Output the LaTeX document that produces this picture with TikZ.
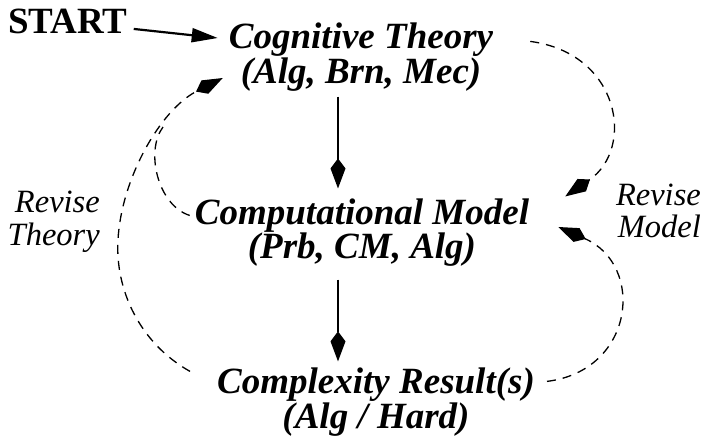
\documentclass[tikz,border=0pt]{standalone}
\usepackage{fontspec}
\setmainfont{Liberation Serif}
\usetikzlibrary{arrows.meta}
\tikzset{
  concept/.style={inner sep=0pt, align=center, font=\fontsize{37}{32}\selectfont\bfseries\itshape},
  revlabel/.style={inner sep=0pt, align=right, font=\fontsize{32.5}{32.5}\selectfont\itshape},
  kitearrow/.style={line width=1.3pt, -{Kite[length=30pt,width=15pt,inset=10pt]}},
  revise/.style={kitearrow, dash pattern=on 9pt off 7pt},
  startarrow/.style={line width=2.2pt, -{Triangle[length=26pt,width=14pt]}}
}
\begin{document}
\begin{tikzpicture}[x=1pt,y=-1pt]
\useasboundingbox (0,0) rectangle (709,442);
\node[inner sep=0pt, anchor=base west, font=\fontsize{37}{37}\selectfont\bfseries] (st) at (8,33) {START};
\node[concept] (ct) at (361,57.4) {Cognitive Theory\\(Alg, Brn, Mec)};
\node[concept] (cm) at (362,232.4) {Computational Model\\(Prb, CM, Alg)};
\node[concept] (cr) at (376,402.4) {Complexity Result(s)\\(Alg / Hard)};
\node[revlabel, anchor=east] (rt) at (100,221.8) {Revise\\Theory};
\node[revlabel, anchor=east] (rm) at (701,210.9) {Revise\\Model};
\coordinate (vx) at (338,0);
\coordinate (lt) at (118,240);
\coordinate (jn) at (163,127);
% start arrow
\draw[startarrow] ([shift={(6,8)}]st.east) -- ([shift={(-11,-19.4)}]ct.west);
% main vertical arrows
\draw[kitearrow, shorten <=5pt, shorten >=9.7pt] (ct.south -| vx) -- (cm.north -| vx);
\draw[kitearrow, shorten <=13pt, shorten >=6.7pt] (cm.south -| vx) -- (cr.north -| vx);
% revise model (from cognitive theory)
\draw[revise] ([shift={(37,18.3)}]ct.north east) .. controls +(90,12) and +(70,-48) .. ([shift={(36,-1.7)}]cm.north east);
% revise model (from complexity result)
\draw[revise] ([shift={(12,13.3)}]cr.north east) .. controls +(88,-11) and +(87,38) .. ([shift={(29,-5.4)}]cm.east);
% revise theory (from complexity result)
\draw[revise] ([shift={(-27,3.3)}]cr.north west) .. controls +(-50,-28) and +(-3,50) .. (lt)
  .. controls +(3,-60) and +(-63,32) .. ([shift={(-6,20.6)}]ct.west);
% revise theory (from computational model)
\draw[line width=1.3pt, dash pattern=on 9pt off 7pt] ([shift={(-5,17.3)}]cm.north west) .. controls +(-32,-10) and +(-18,24) .. (jn);
\end{tikzpicture}
\end{document}
